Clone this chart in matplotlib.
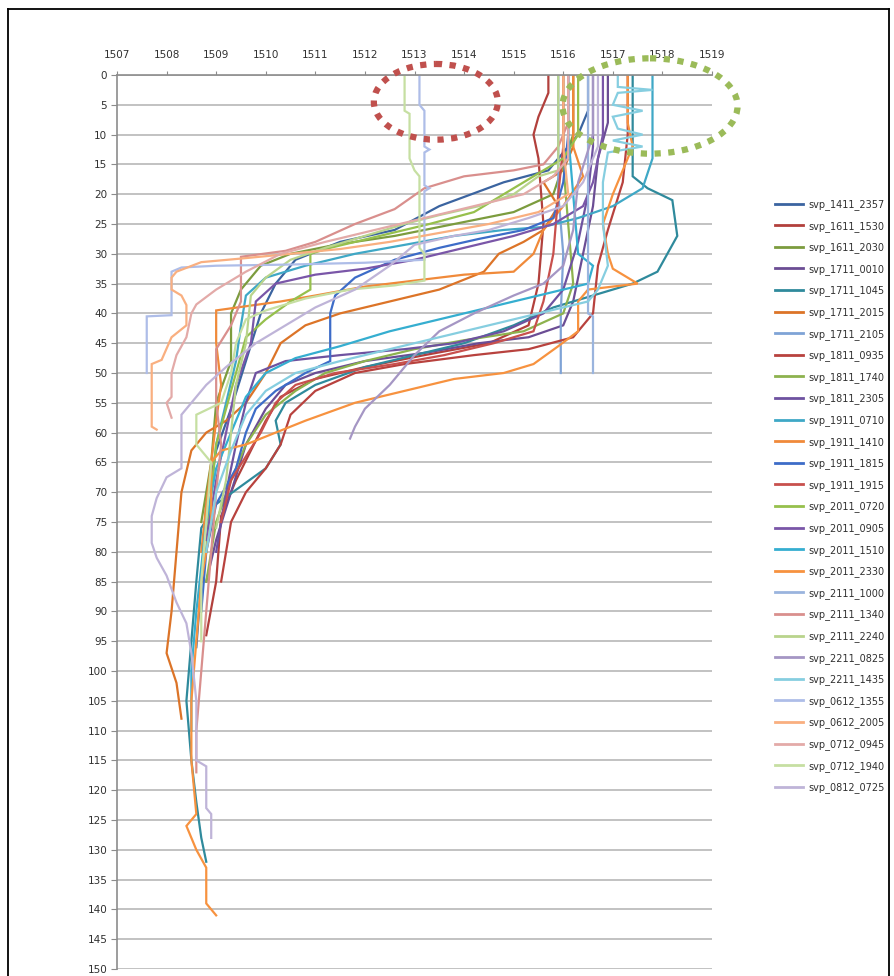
import matplotlib
matplotlib.use("Agg")
import matplotlib.pyplot as plt
from matplotlib.patches import Ellipse
from matplotlib.lines import Line2D

names = ["svp_1411_2357", "svp_1611_1530", "svp_1611_2030", "svp_1711_0010", "svp_1711_1045",
         "svp_1711_2015", "svp_1711_2105", "svp_1811_0935", "svp_1811_1740", "svp_1811_2305",
         "svp_1911_0710", "svp_1911_1410", "svp_1911_1815", "svp_1911_1915", "svp_2011_0720",
         "svp_2011_0905", "svp_2011_1510", "svp_2011_2330", "svp_2111_1000", "svp_2111_1340",
         "svp_2111_2240", "svp_2211_0825", "svp_2211_1435", "svp_0612_1355", "svp_0612_2005",
         "svp_0712_0945", "svp_0712_1940", "svp_0812_0725"]

colors = ["#3B64A0", "#B2403C", "#7C9C3E", "#6B4D94", "#2F8A9C", "#DC7428", "#7FA3D6",
          "#B8423E", "#8DB24E", "#6E52A0", "#3FA8C6", "#F08A3A", "#3D6CC8", "#C8504D",
          "#96C04C", "#7A56A8", "#35AED0", "#F7923F", "#9AB4DE", "#D98F8D", "#B9D48C",
          "#A596C4", "#86CEE0", "#AEBDE8", "#F9AF80", "#E3AAA8", "#C6DFA2", "#BFB4D8"]

# (speed m/s, depth m) nodes
p1411_2357 = [(1516.5,0),(1516.5,6),(1516.3,10),(1515.7,16),(1514.8,18),(1513.5,22),(1512.6,26),(1511.5,28),(1510.6,31),(1510.2,35),(1509.9,40),(1509.6,48),(1509.3,56),(1509.0,63),(1508.8,72),(1508.7,85),(1508.6,96)]
p1611_1530 = [(1515.7,0),(1515.7,3),(1515.5,7),(1515.4,10),(1515.5,14),(1515.6,25),(1515.5,35),(1515.3,42),(1514.5,45),(1513.2,47),(1512.0,49),(1511.0,51),(1510.3,54),(1510.0,58),(1509.7,63),(1509.4,68),(1509.1,74),(1509.0,85),(1508.8,94)]
p1611_2030 = [(1516.2,0),(1516.2,10),(1516.0,15),(1515.8,20),(1515.0,23),(1513.8,25),(1512.6,27),(1511.4,28.5),(1510.5,30),(1509.9,32),(1509.5,36),(1509.3,40),(1509.3,48),(1509.0,55),(1508.9,65),(1508.7,75)]
p1711_0010 = [(1516.9,0),(1516.9,8),(1516.7,14),(1516.6,22),(1516.4,30),(1516.2,38),(1516.0,42),(1515.3,44),(1514.3,45),(1513.3,46.5),(1512.0,48),(1511.0,50),(1510.4,52),(1510.0,56),(1509.6,62),(1509.3,70),(1509.0,78),(1508.8,85)]
p1711_1045 = [(1517.4,0),(1517.4,17),(1517.7,19),(1518.2,21),(1518.3,27),(1518.1,30),(1517.9,33),(1517.4,35),(1516.6,37),(1515.8,39),(1515.0,42),(1514.0,45),(1513.0,47),(1512.0,49),(1511.0,52),(1510.4,55),(1510.2,58),(1510.3,62),(1510.0,66),(1509.5,69),(1509.0,72),(1508.7,76),(1508.6,85),(1508.5,95),(1508.4,105),(1508.5,115),(1508.6,122),(1508.7,128),(1508.8,132)]
p1711_2015 = [(1516.2,0),(1516.2,12),(1516.0,16),(1515.6,18),(1515.9,22),(1515.6,26),(1515.2,28),(1514.7,30),(1514.4,33),(1513.5,36),(1512.5,38),(1511.5,40),(1510.8,42),(1510.3,45),(1510.0,50),(1509.6,55),(1509.2,58),(1508.8,60),(1508.5,63),(1508.3,70),(1508.2,80),(1508.1,90),(1508.0,97),(1508.2,102),(1508.3,108)]
p1711_2105 = [(1515.9,0),(1515.9,20),(1516.0,30),(1515.95,40),(1515.95,50)]
p1811_0935 = [(1517.3,0),(1517.3,10),(1517.2,18),(1516.9,26),(1516.7,32),(1516.6,40),(1516.2,44),(1515.3,46),(1514.2,47),(1512.8,48.5),(1511.8,50),(1511.0,53),(1510.5,57),(1510.3,62),(1510.0,66),(1509.6,70),(1509.3,75),(1509.1,85)]
p1811_1740 = [(1516.0,0),(1516.0,15),(1516.1,25),(1516.2,35),(1516.0,40),(1515.2,43),(1514.0,44.5),(1513.0,46),(1512.0,48),(1511.2,50),(1510.6,53),(1510.0,57),(1509.6,62),(1509.3,68),(1509.0,75),(1508.8,85)]
p1811_2305 = [(1516.6,0),(1516.6,12),(1516.5,20),(1516.3,28),(1516.0,36),(1515.6,40),(1514.8,43),(1513.8,45),(1512.8,46),(1511.5,47),(1510.4,48),(1509.8,50),(1509.6,55),(1509.4,62),(1509.2,70),(1509.0,80)]
p1911_0710 = [(1517.8,0),(1517.8,14),(1517.6,19),(1517.0,22),(1516.3,24),(1515.6,25.5),(1514.8,26),(1513.8,27),(1512.8,28.5),(1511.8,30),(1510.8,32),(1510.0,34),(1509.6,37),(1509.5,42),(1509.4,48),(1509.2,55),(1509.0,62),(1508.9,70),(1508.8,80)]
p1911_1410 = [(1516.2,0),(1516.2,12),(1516.4,17),(1516.0,22),(1515.6,26),(1515.4,30),(1515.0,33),(1514.0,33.5),(1513.0,34.5),(1512.0,35.5),(1511.0,37),(1510.3,38),(1509.6,38.8),(1509.0,39.5),(1509.0,45),(1509.1,52),(1509.0,58),(1508.9,65),(1508.8,72),(1508.7,80)]
p1911_1815 = [(1516.1,0),(1516.1,10),(1516.0,18),(1515.8,24),(1515.2,26),(1514.3,27.5),(1513.5,29),(1512.6,31),(1511.8,34),(1511.4,37),(1511.3,40),(1511.3,48),(1510.8,50),(1510.2,53),(1509.8,56),(1509.6,60),(1509.4,66),(1509.0,72),(1508.8,80),(1508.7,90)]
p1911_1915 = [(1516.0,0),(1516.0,12),(1515.9,20),(1515.8,30),(1515.6,38),(1515.4,43),(1514.6,45),(1513.6,47),(1512.6,48.5),(1511.4,50),(1510.6,52),(1510.2,55),(1509.9,60),(1509.6,64),(1509.3,68),(1509.1,75)]
p2011_0720 = [(1516.3,0),(1516.3,10),(1516.0,14),(1515.4,17),(1514.8,20),(1514.2,23),(1513.3,25),(1512.3,27),(1511.3,29),(1510.9,30),(1510.9,36),(1510.5,38),(1510.0,41),(1509.6,44),(1509.4,50),(1509.2,56),(1509.0,62),(1508.9,70),(1508.8,80)]
p2011_0905 = [(1516.8,0),(1516.8,10),(1516.6,18),(1516.4,22),(1515.8,25),(1515.0,27),(1514.0,29),(1513.0,31),(1512.0,32.5),(1511.0,33.5),(1510.2,35),(1509.8,38),(1509.7,45),(1509.4,52),(1509.2,60),(1509.0,68),(1508.8,78)]
p2011_1510 = [(1516.1,0),(1516.1,10),(1516.2,20),(1516.3,30),(1516.6,32),(1516.5,35),(1515.5,37),(1514.5,39),(1513.5,41),(1512.5,43),(1511.5,45.5),(1510.6,47.5),(1510.0,50),(1509.6,54),(1509.3,60),(1509.0,66),(1508.8,75),(1508.6,90),(1508.5,100),(1508.5,110)]
p2011_2330 = [(1517.3,0),(1517.3,8),(1517.4,12),(1517.2,16),(1517.0,20),(1516.8,25),(1516.9,30),(1517.0,32.5),(1517.5,35),(1516.5,36),(1516.3,38),(1516.3,43),(1515.9,45.5),(1515.4,48.5),(1514.8,50),(1513.8,51),(1512.8,53),(1511.8,55),(1510.8,58),(1510.2,60),(1509.6,62),(1509.1,63),(1508.9,65),(1508.9,75),(1508.7,85),(1508.6,95),(1508.5,105),(1508.5,115),(1508.6,124),(1508.4,126),(1508.6,130),(1508.8,133),(1508.8,139),(1509.0,141)]
p2111_1000 = [(1516.5,0),(1516.5,40),(1516.6,40.5),(1516.6,50)]
p2111_1340 = [(1516.1,0),(1516.1,8),(1515.9,12),(1515.6,15),(1515.0,16),(1514.0,17),(1513.2,19),(1512.6,22.5),(1511.8,25),(1511.0,28),(1510.4,29.5),(1509.5,30.5),(1509.5,38),(1509.3,42),(1509.0,46),(1509.0,55),(1509.1,62),(1509.0,70),(1508.9,80),(1508.8,90),(1508.7,100),(1508.6,110),(1508.6,117)]
p2111_2240 = [(1515.9,0),(1515.9,16),(1515.5,17),(1515.0,20),(1514.3,22),(1513.5,23.5),(1512.8,25),(1512.0,27),(1511.2,29),(1510.5,31),(1510.0,34),(1509.7,37),(1509.6,45),(1509.4,52),(1509.3,60),(1509.2,68),(1509.0,76)]
p2211_0825 = [(1516.6,0),(1516.6,10),(1516.3,18),(1516.2,26),(1516.0,32),(1515.6,35),(1515.0,37),(1514.2,40),(1513.5,43),(1513.0,47),(1512.5,52),(1512.0,56),(1511.8,59),(1511.7,61)]
p2211_1435 = [(1517.1,0),(1517.1,2),(1517.8,2.5),(1517.1,3),(1517.0,5),(1517.6,6),(1517.0,7),(1517.1,9),(1517.6,10),(1517.0,11),(1517.6,12),(1516.9,13),(1516.8,18),(1516.8,25),(1516.9,32),(1516.7,36),(1516.5,38),(1515.5,40),(1514.5,42),(1513.5,44),(1512.5,46),(1511.5,48),(1510.6,50),(1510.0,53),(1509.6,57),(1509.3,63),(1509.0,70),(1508.8,80)]
p0612_1355 = [(1513.1,0),(1513.1,5),(1513.2,6),(1513.2,12),(1513.3,12.5),(1513.2,13),(1513.2,18.5),(1513.3,19),(1513.2,19.5),(1513.2,31),(1512.0,31.5),(1510.5,31.8),(1509.0,32),(1508.3,32.3),(1508.1,33),(1508.1,40.3),(1507.6,40.5),(1507.6,50)]
p0612_2005 = [(1516.0,0),(1516.0,12),(1516.1,20),(1515.5,23),(1514.5,25),(1513.5,26.5),(1512.5,28),(1511.5,29.2),(1510.5,30),(1509.5,30.8),(1508.7,31.4),(1508.2,33),(1508.1,34),(1508.1,36),(1508.3,37),(1508.4,38.6),(1508.4,42),(1508.1,44),(1507.9,47.8),(1507.7,48.5),(1507.7,59),(1507.8,59.5)]
p0712_0945 = [(1516.1,0),(1516.1,14),(1515.8,17),(1515.2,20),(1514.2,22),(1513.2,24),(1512.2,26),(1511.2,28),(1510.3,30),(1509.6,33),(1509.0,36),(1508.6,38.5),(1508.5,40),(1508.4,44),(1508.2,47),(1508.1,50),(1508.1,54),(1508.0,55),(1508.1,57.5)]
p0712_1940 = [(1512.8,0),(1512.8,6),(1512.9,6.5),(1512.9,14),(1513.0,16),(1513.1,17),(1513.1,29),(1513.2,30),(1513.2,34.5),(1512.6,35.3),(1511.7,36),(1510.8,37.5),(1510.0,39.5),(1509.6,41),(1509.4,45),(1509.3,50),(1509.1,55),(1508.6,57),(1508.6,62),(1508.9,65),(1508.8,75),(1508.7,85),(1508.7,95)]
p0812_0725 = [(1516.7,0),(1516.7,12),(1516.4,18),(1516.0,22),(1515.3,24),(1514.5,26),(1513.8,27),(1513.0,28.5),(1512.5,32),(1511.8,36),(1511.0,39),(1510.5,41.5),(1509.8,45),(1509.2,49),(1508.8,52),(1508.3,57),(1508.3,66),(1508.0,67.5),(1507.8,71),(1507.7,74),(1507.7,78.5),(1507.8,81),(1508.0,84),(1508.2,88.5),(1508.4,92),(1508.5,97),(1508.6,105),(1508.6,115),(1508.8,116),(1508.8,123),(1508.9,124),(1508.9,128)]

profiles = [p1411_2357, p1611_1530, p1611_2030, p1711_0010, p1711_1045, p1711_2015, p1711_2105,
            p1811_0935, p1811_1740, p1811_2305, p1911_0710, p1911_1410, p1911_1815, p1911_1915,
            p2011_0720, p2011_0905, p2011_1510, p2011_2330, p2111_1000, p2111_1340, p2111_2240,
            p2211_0825, p2211_1435, p0612_1355, p0612_2005, p0712_0945, p0712_1940, p0812_0725]

xticks = list(range(1507, 1520))
yticks = list(range(0, 151, 5))

W, H = 894, 976
top_px, bot_px = 75, 969
fig = plt.figure(figsize=(W / 100, H / 100), dpi=100)
ax = fig.add_axes([117 / W, 1 - bot_px / H, (712 - 117) / W, (bot_px - top_px) / H])

for name, col, prof in zip(names, colors, profiles):
    s = [p[0] for p in prof]
    d = [p[1] for p in prof]
    ax.plot(s, d, color=col, lw=1.6, label=name, solid_joinstyle="miter")

ax.set_xlim(1507, 1519)
ax.set_ylim(150, 0)
ax.set_xticks(xticks)
ax.set_yticks(yticks)
ax.xaxis.tick_top()
tickfont = dict(family=["Liberation Sans Narrow", "DejaVu Sans"], size=7.5)
ax.set_xticklabels([str(v) for v in xticks], fontdict=tickfont, color="#303030")
ax.set_yticklabels([str(v) for v in yticks], fontdict=tickfont, color="#303030")
ax.tick_params(axis="x", direction="out", length=3, pad=8, color="#8C8C8C")
ax.tick_params(axis="y", direction="out", length=4, pad=3, color="#8C8C8C")
ax.yaxis.grid(True, color="#BDBDBD", lw=1.3)
ax.xaxis.grid(False)
ax.set_axisbelow(True)
for sp in ["right", "bottom"]:
    ax.spines[sp].set_visible(False)
for sp in ["left", "top"]:
    ax.spines[sp].set_color("#8C8C8C")
    ax.spines[sp].set_linewidth(1.2)

# dotted ellipses
e1 = Ellipse((1513.43, 4.5), 2.5, 12.7, fill=False, edgecolor="#C0504D", lw=4.5,
             linestyle=(0, (1, 1.2)), clip_on=False, zorder=5)
e2 = Ellipse((1517.75, 5.2), 3.53, 16.0, fill=False, edgecolor="#9BBB59", lw=4.5,
             linestyle=(0, (1, 1.2)), clip_on=False, zorder=5)
ax.add_patch(e1)
ax.add_patch(e2)

leg = ax.legend(loc="upper left", bbox_to_anchor=(775 / W, 1 - 199 / H),
                bbox_transform=fig.transFigure, frameon=False,
                prop=dict(family=["Liberation Sans Narrow", "DejaVu Sans"], size=7),
                handlelength=2.9, handletextpad=0.5, labelspacing=1.1, borderpad=0,
                borderaxespad=0)
for t in leg.get_texts():
    t.set_color("#303030")
for l in leg.get_lines():
    l.set_linewidth(2.0)

# outer frame
fx0, fx1, fy1 = 8 / W, 889 / W, 1 - 9 / H
for xs, ys in [([fx0, fx0], [-0.01, fy1]), ([fx0, fx1], [fy1, fy1]), ([fx1, fx1], [fy1, -0.01])]:
    fig.add_artist(Line2D(xs, ys, color="black", lw=1.3, transform=fig.transFigure))

fig.savefig("out.png", dpi=100)
